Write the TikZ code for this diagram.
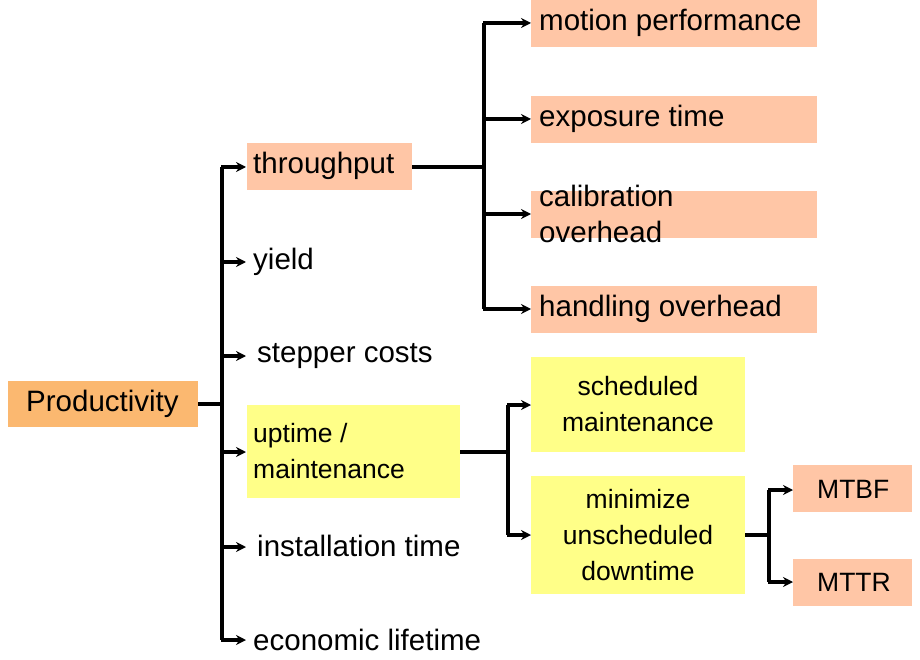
\documentclass[tikz,border=0pt]{standalone}
\usepackage{fontspec}
\setmainfont{Liberation Sans}
\usetikzlibrary{arrows.meta}
\definecolor{orng}{HTML}{FBB870}
\definecolor{salm}{HTML}{FFC6A6}
\definecolor{yel}{HTML}{FFFF88}
\begin{document}
\begin{tikzpicture}[x=1pt,y=-1pt,
  conn/.style={line width=3.2pt},
  arr/.style={line width=3.2pt,-{Stealth[length=10pt,width=10pt]}},
  big/.style={font=\fontsize{29.5}{36}\selectfont},
  small/.style={font=\fontsize{26.5}{36}\selectfont},
  lbl/.style={big,anchor=west,inner sep=0pt}]
\useasboundingbox (0,0) rectangle (920,660);
% boxes
\fill[orng] (8,381) rectangle (198,427);
\node[lbl] (prod) at (26,404) {Productivity};
\fill[salm] (247,143) rectangle (412,190);
\node[lbl] (thr) at (253,166) {throughput};
\node[lbl] (yield) at (253,262) {yield};
\node[lbl] (step) at (257,356) {stepper costs};
\fill[yel] (247,405) rectangle (460,498);
\node[lbl,small,align=left] (up) at (253,451) {uptime /\\maintenance};
\node[lbl] (inst) at (257,546) {installation time};
\node[lbl] (econ) at (253,640) {economic lifetime};
\foreach \y/\t in {0/motion performance,96/exposure time,286/handling overhead}
  {\fill[salm] (531,\y) rectangle (817,\y+47);
   \node[lbl] at (539,\y+23) {\t};}
\fill[salm] (531,191) rectangle (817,238);
\node[lbl,align=left,font=\fontsize{29.5}{36}\selectfont] at (539,214) {calibration\\overhead};
\fill[yel] (531,357) rectangle (745,452);
\node[small,align=center] at (638,404) {scheduled\\maintenance};
\fill[yel] (531,476) rectangle (745,594);
\node[small,align=center] at (638,535) {minimize\\unscheduled\\downtime};
\fill[salm] (793,465) rectangle (912,512);
\node[lbl,small] at (817,489) {MTBF};
\fill[salm] (793,559) rectangle (912,606);
\node[lbl,small] at (817,582) {MTTR};
% connectors
\coordinate (j1) at (222,404);
\draw[conn] (198,404) -- (j1);
\draw[conn] (222,167) -- (222,640);
\foreach \y in {167,262,356,452,547,640} \draw[arr] (221,\y) -- (246,\y);
\draw[conn] (412,167) -- (484,167);
\draw[conn] (484,23) -- (484,309);
\foreach \y in {23,119,214,309} \draw[arr] (483,\y) -- (531,\y);
\draw[conn] (460,452) -- (508,452);
\draw[conn] (508,405) -- (508,535);
\foreach \y in {405,535} \draw[arr] (507,\y) -- (531,\y);
\draw[conn] (745,535) -- (769,535);
\draw[conn] (769,490) -- (769,582);
\foreach \y in {490,582} \draw[arr] (768,\y) -- (793,\y);
\end{tikzpicture}
\end{document}
